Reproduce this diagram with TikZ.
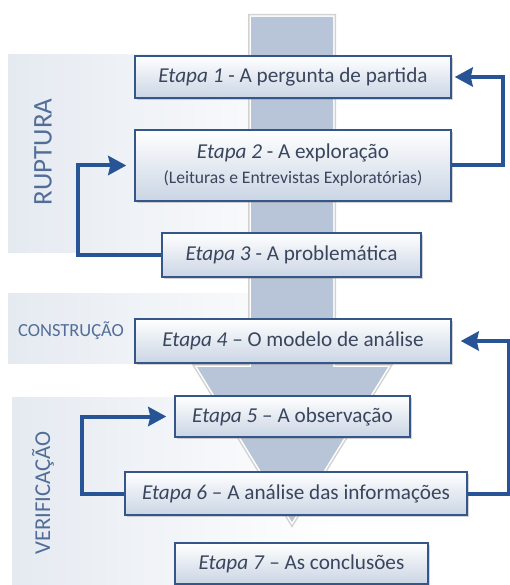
\documentclass[tikz,border=0pt]{standalone}
\usepackage{fontspec}
\setmainfont{Carlito}
\usepackage{tikz}
\usetikzlibrary{arrows.meta,positioning,shadows}

\definecolor{azulseta}{RGB}{38,84,148}
\definecolor{azulborda}{RGB}{52,86,136}
\definecolor{textoetapa}{RGB}{58,70,94}
\definecolor{textopainel}{RGB}{82,110,152}
\definecolor{fundopainel}{RGB}{229,234,241}
\definecolor{fundoseta}{RGB}{184,197,216}
\definecolor{fundocaixa}{RGB}{202,213,228}

\begin{document}
\begin{tikzpicture}[
    x=1pt, y=1pt,
    node distance=88pt,
    font=\fontsize{21.2}{25}\selectfont,
    etapa/.style={
		rectangle,
		draw=azulborda,
		line width=1.4pt,
		top color=white,
		bottom color=fundocaixa,
		text=textoetapa,
		text centered,
		minimum height=42pt,
		drop shadow={shadow xshift=2pt, shadow yshift=-2pt, opacity=0.35}
	},
	seta/.style={
		draw=azulseta,
		line width=4pt,
		-{Stealth[length=18pt,width=19pt,inset=2pt]},
		shorten >=8pt
	},
	painel/.style={
		text=textopainel
	}
  ]

 \useasboundingbox (0,0) rectangle (509,-585);

% // The panels
 \shade [left color=fundopainel, right color=white, middle color=fundopainel!50] (8,-55) rectangle (340,-252);
 \shade [left color=fundopainel, right color=white, middle color=fundopainel!50] (8,-293) rectangle (335,-363);
 \shade [left color=fundopainel, right color=white, middle color=fundopainel!50] (12,-397) rectangle (335,-585);

 \node [painel, rotate=90, font=\fontsize{27}{30}\selectfont] (ruptura) at (43,-152) {RUPTURA};
 \node [painel, font=\fontsize{18.5}{22}\selectfont] (construcao) at (71,-331) {CONSTRUÇÃO};
 \node [painel, rotate=90, font=\fontsize{22.7}{26}\selectfont] (verificacao) at (43,-493) {VERIFICAÇÃO};

% // The big arrow
 \draw [gray!35, line width=6pt, line join=miter]
   (251,-17) -- (333,-17) -- (333,-367) -- (388,-367) -- (292,-522) -- (197,-367) -- (251,-367) -- cycle;
 \draw [white, line width=3pt, line join=miter]
   (251,-17) -- (333,-17) -- (333,-367) -- (388,-367) -- (292,-522) -- (197,-367) -- (251,-367) -- cycle;
 \fill [fundoseta]
   (251,-17) -- (333,-17) -- (333,-367) -- (388,-367) -- (292,-522) -- (197,-367) -- (251,-367) -- cycle;

% // The steps
 \node [etapa, minimum width=316pt] (e1) at (293,-77) {\textit{Etapa 1} - A pergunta de partida};
 \node [etapa, below of=e1, yshift=-0.5pt, minimum width=316pt, minimum height=71pt, align=center] (e2)
 {%
  \textit{Etapa 2} - A exploração\\[0pt]
  {\fontsize{17.6}{20}\selectfont (Leituras e Entrevistas Exploratórias)}
 };
 \node [etapa, below of=e2, yshift=-1.5pt, xshift=-1.5pt, minimum width=259pt, minimum height=44pt] (e3) {\textit{Etapa 3} - A problemática};
 \node [etapa, below of=e3, yshift=2pt, xshift=1.5pt, minimum width=316pt, minimum height=44pt] (e4) {\textit{Etapa 4} – O modelo de análise};
 \node [etapa, below of=e4, yshift=12.5pt, xshift=-0.5pt, minimum width=235pt, minimum height=41pt] (e5) {\textit{Etapa 5} – A observação};
 \node [etapa, below of=e5, yshift=11pt, xshift=3.5pt, minimum width=342pt, minimum height=43pt] (e6) {\textit{Etapa 6} – A análise das informações};
 \node [etapa, below of=e6, yshift=18pt, xshift=5.5pt, minimum width=253pt, minimum height=41pt] (e7) {\textit{Etapa 7} – As conclusões};

% // The loops
 \draw [seta, shorten >=3pt] (e2.east) -- ++(51,0) |- (e1.east);
 \draw [seta] (e3.west) -- ++(-83,0) |- (e2.west);
 \draw [seta] (e6.west) -- ++(-42,0) |- (e5.west);
 \draw [seta, shorten >=9pt] (e6.east) -- ++(41,0) |- (e4.east);

\end{tikzpicture}
\end{document}
